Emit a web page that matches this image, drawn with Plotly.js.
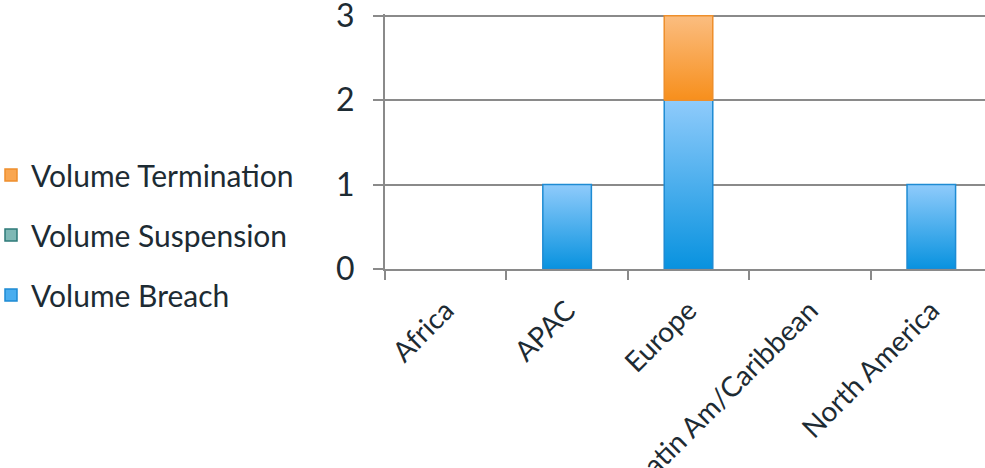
<!DOCTYPE html>
<html>
<head>
<meta charset="utf-8">
<script src="https://cdn.plot.ly/plotly-3.0.1.min.js"></script>
<style>
html, body { margin: 0; padding: 0; overflow: hidden; background: #fff; }
#chart { width: 1000px; height: 468px; }
</style>
</head>
<body>
<div id="chart"></div>
<script>
const categories = ["Africa", "APAC", "Europe", "Latin Am/Caribbean", "North America"];
const seriesNames = ["Volume Breach", "Volume Suspension", "Volume Termination"];
const breach = [0, 1, 2, 0, 1];
const suspension = [0, 0, 0, 0, 0];
const termination = [0, 0, 1, 0, 0];
const yTicks = [0, 1, 2, 3];

const seriesValues = [breach, suspension, termination];
const styles = [
  { solid: "#4aaeef", top: "#8fcbfb", bottom: "#0892df", line: "#1e8bd3" },
  { solid: "#7fb8b5", top: "#a9d3d0", bottom: "#4f9a97", line: "#2e7a78" },
  { solid: "#f9a650", top: "#fbbd80", bottom: "#f78f1c", line: "#ee8f2c" }
];
const barW = 0.4;
const xIdx = categories.map((c, i) => i);
const font = "Lato, 'Open Sans', sans-serif";
const textColor = "#1d2b33";

const traces = [];
// real stacked bars from the data (solid fill, under the gradient overlays)
for (let s = 0; s < 3; s++) {
  traces.push({
    type: "bar",
    name: seriesNames[s],
    x: xIdx,
    y: seriesValues[s],
    width: barW,
    marker: { color: styles[s].solid, line: { width: 0 } },
    showlegend: false,
    hoverinfo: "skip"
  });
}
// legend entries (Termination, Suspension, Breach from top)
for (let s = 2; s >= 0; s--) {
  traces.push({
    type: "bar",
    name: seriesNames[s],
    x: [null],
    y: [null],
    marker: { color: styles[s].solid, line: { color: styles[s].line, width: 1.5 } },
    legendgroup: "g" + s,
    hoverinfo: "skip"
  });
}
// gradient overlays computed from the same data
const base = categories.map(() => 0);
for (let s = 0; s < 3; s++) {
  const vals = seriesValues[s];
  for (let i = 0; i < categories.length; i++) {
    const v = vals[i];
    if (v > 0) {
      const b = base[i];
      traces.push({
        type: "scatter",
        mode: "lines",
        x: [i - barW / 2, i + barW / 2, i + barW / 2, i - barW / 2, i - barW / 2],
        y: [b, b, b + v, b + v, b],
        fill: "toself",
        fillgradient: {
          type: "vertical",
          colorscale: [[0, styles[s].bottom], [1, styles[s].top]]
        },
        line: { color: styles[s].line, width: 1.5 },
        showlegend: false,
        hoverinfo: "skip"
      });
    }
    base[i] += v;
  }
}

const mT = 14, mB = 199, mL = 385, mR = 8;
const plotW = 1000 - mL - mR;
const plotH = 468 - mT - mB;
const layout = {
  width: 1000,
  height: 468,
  margin: { l: mL, r: mR, t: mT, b: mB, autoexpand: false },
  paper_bgcolor: "#ffffff",
  plot_bgcolor: "#ffffff",
  barmode: "stack",
  showlegend: true,
  font: { family: font, color: textColor },
  legend: {
    xref: "paper", yref: "paper",
    x: -394 / plotW, y: 1 - (149 - mT) / plotH, xanchor: "left", yanchor: "top",
    traceorder: "grouped",
    tracegroupgap: 18,
    font: { family: font, size: 30, color: textColor },
    bgcolor: "rgba(0,0,0,0)"
  },
  xaxis: {
    type: "linear",
    range: [-0.5, 4.5],
    tickmode: "array",
    tickvals: xIdx,
    ticktext: categories,
    tickangle: -45,
    ticks: "",
    ticklabelstandoff: 12,
    ticklabeloverflow: "allow",
    showgrid: false,
    zeroline: false,
    showline: true,
    linecolor: "#8a8a8a",
    linewidth: 2,
    tickfont: { family: font, size: 28, color: textColor },
    minor: { tick0: -0.5, dtick: 1, ticks: "outside", ticklen: 9, tickcolor: "#8a8a8a", tickwidth: 2, showgrid: false },
    fixedrange: true
  },
  yaxis: {
    range: [0, 3.02],
    tickmode: "array",
    tickvals: yTicks,
    ticktext: yTicks.map(String),
    showgrid: true,
    gridcolor: "#8a8a8a",
    gridwidth: 2,
    zeroline: false,
    showline: true,
    linecolor: "#8a8a8a",
    linewidth: 2,
    ticks: "outside",
    ticklen: 10,
    tickcolor: "#8a8a8a",
    tickwidth: 2,
    ticklabelstandoff: 12,
    ticklabeloverflow: "allow",
    tickfont: { family: font, size: 32, color: textColor },
    fixedrange: true
  }
};

Plotly.newPlot("chart", traces, layout, { displayModeBar: false, staticPlot: true });
</script>
</body>
</html>
